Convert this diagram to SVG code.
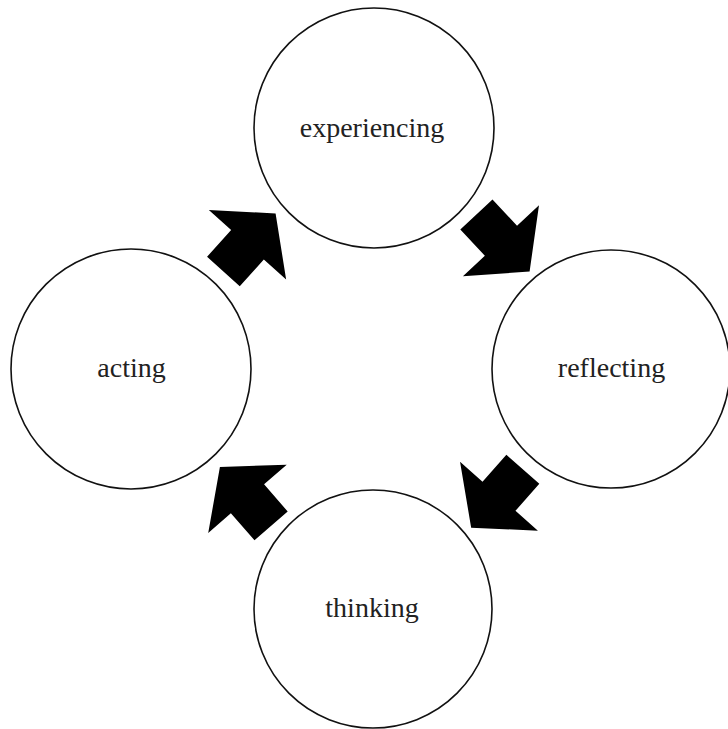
<svg xmlns="http://www.w3.org/2000/svg" width="728" height="729" viewBox="0 0 728 729">
<style>
.node circle{fill:#fff;stroke:#111;stroke-width:1.6}
.node text{font-family:"Liberation Serif","Times New Roman",serif;font-size:28px;fill:#222;text-anchor:middle}
.arrow{fill:#000}
</style>
<defs>
<polygon id="blk" points="-39,-22 -3,-22 -3,-52 39,0 -3,52 -3,22 -39,22"/>
</defs>
<rect width="728" height="729" fill="#fff"/>
<g id="experiencing" class="node"><circle cx="374" cy="128" r="120"/><text x="372" y="137">experiencing</text></g>
<g id="reflecting" class="node"><circle cx="611" cy="369" r="119"/><text x="611.5" y="377">reflecting</text></g>
<g id="thinking" class="node"><circle cx="373" cy="609" r="119"/><text x="372" y="617">thinking</text></g>
<g id="acting" class="node"><circle cx="131" cy="369" r="120"/><text x="131.5" y="377">acting</text></g>
<g id="connectors">
<use href="#blk" class="arrow" transform="translate(249.5,242.5) rotate(-48)"/>
<use href="#blk" class="arrow" transform="translate(503,243) rotate(47)"/>
<use href="#blk" class="arrow" transform="translate(497,498.5) rotate(131.5)"/>
<use href="#blk" class="arrow" transform="translate(245.5,496.5) rotate(-131)"/>
</g>
</svg>
